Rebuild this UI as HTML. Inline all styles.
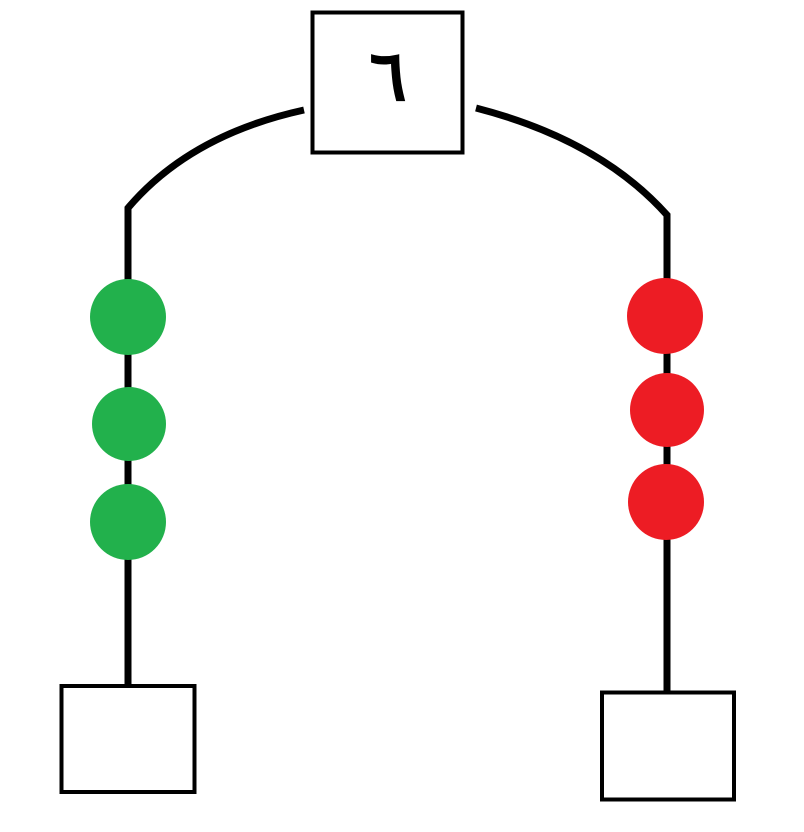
<!DOCTYPE html>
<html><head><meta charset="utf-8"><style>
html,body{margin:0;padding:0;background:#fff;width:804px;height:832px;overflow:hidden}
</style></head><body>
<svg width="804" height="832" viewBox="0 0 804 832">
<path d="M304,110 Q190,135 128,208 L128,686" fill="none" stroke="#000" stroke-width="7"/>
<path d="M476,108 Q600,140 667,215 L667,692" fill="none" stroke="#000" stroke-width="7"/>
<rect x="312.5" y="12.5" width="150" height="140" fill="#fff" stroke="#000" stroke-width="4"/>
<text x="388" y="100" text-anchor="middle" font-family="'Liberation Serif','DejaVu Serif',serif" font-size="70" font-weight="bold">٦</text>
<rect x="61.5" y="686" width="133" height="106" fill="#fff" stroke="#000" stroke-width="4"/>
<rect x="602" y="692.5" width="132" height="107" fill="#fff" stroke="#000" stroke-width="4"/>
<circle cx="128" cy="317" r="38" fill="#22b14c"/>
<circle cx="129" cy="424" r="37" fill="#22b14c"/>
<circle cx="128" cy="522" r="38" fill="#22b14c"/>
<circle cx="665" cy="316" r="38" fill="#ed1c24"/>
<circle cx="667" cy="410" r="37" fill="#ed1c24"/>
<circle cx="666" cy="502" r="38" fill="#ed1c24"/>
</svg>
</body></html>
